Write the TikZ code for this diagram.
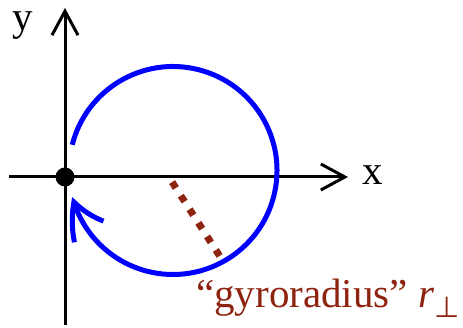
\documentclass[tikz,border=0pt]{standalone}
\usepackage{fontspec}
\setmainfont{Liberation Serif}
\newfontfamily\symfont{DejaVu Sans}
\usepackage{tikz}
\usetikzlibrary{positioning, arrows.meta, bending, calc}
\definecolor{orbit}{HTML}{0000FF}
\definecolor{rust}{HTML}{8E2410}
\tikzset{
  axis/.style={-{Straight Barb[length=24pt, width=26pt]}, line width=3pt},
  gyro/.style={-{Straight Barb[length=34pt, width=36pt, bend]}, line width=5pt, draw=orbit},
  rline/.style={line width=7pt, draw=rust, dash pattern=on 7pt off 9.16pt},
  lbl/.style={font=\fontsize{41}{48}\selectfont, inner sep=0pt},
}
\begin{document}
\begin{tikzpicture}[x=1pt, y=1pt]
  \useasboundingbox (0,0) rectangle (463,328);
  % axes
  \coordinate (xl) at (9,151);
  \coordinate (xr) at (348,151);
  \coordinate (yb) at (65,3);
  \coordinate (yt) at (65,320);
  \draw[axis] (xl) -- (xr);
  \draw[axis] (yb) -- (yt);
  \node[lbl, anchor=base west] (xlab) at (362,143) {x};
  \node[lbl, anchor=base west] (ylab) at (12,297) {y};
  % the orbit
  \coordinate (c) at (173,157.5);
  \draw[gyro] ($(c)+(165.7:104)$) arc[start angle=165.7, end angle=-165.3, radius=104];
  \node[circle, fill, inner sep=0pt, minimum size=19pt] (o) at (65,151) {};
  % gyroradius
  \coordinate (rc) at (172.1,145.9);
  \coordinate (rp) at (219.6,72.1);
  \draw[rline] (rc) -- (rp);
  \node[lbl, text=rust, anchor=base west] (glab) at (196,20)
    {“gyroradius” {\itshape r}\raisebox{-10pt}{\symfont\fontsize{29}{34}\selectfont ⊥}};
\end{tikzpicture}
\end{document}
